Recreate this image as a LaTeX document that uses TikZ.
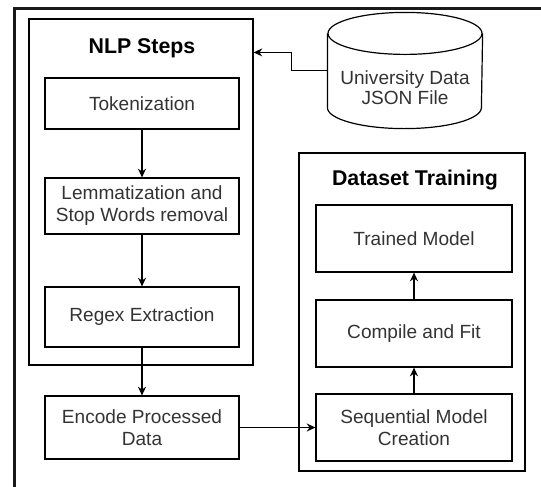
\documentclass[tikz,border=0pt]{standalone}
\usepackage{fontspec}
\setmainfont{Liberation Sans}
\usepackage{tikz}
\usetikzlibrary{positioning,arrows.meta}

\definecolor{txt}{HTML}{333333}

\begin{document}
\begin{tikzpicture}[%
       >={Stealth[length=6.5pt,width=6pt]},
       x=0.75pt, y=-0.75pt,
       line width=0.9pt,
       box/.style={draw, inner sep=0pt, minimum width=145.5pt, align=center, text=txt,
                   font=\fontsize{14.3}{16.5}\selectfont},
       group/.style={draw, inner sep=0pt},
       title/.style={font=\bfseries\fontsize{16}{18}\selectfont}
     ]
     \useasboundingbox (0,0) rectangle (541,486);
     \draw[line width=2.25pt, black!90] (14,490) |- (545,8.5);

     % NLP steps
     \node[group, minimum width=168pt, minimum height=259.5pt] (nlp) at (141,192) {};
     \node[title]                          (nlpt) at (142,48)    {NLP Steps};
     \node[box, minimum height=38.25pt]    (tok)  at (142,103.5) {Tokenization};
     \node[box, minimum height=42pt]       (lem)  at (142,206)   {Lemmatization and\\Stop Words removal};
     \node[box, minimum height=45pt]       (reg)  at (142,317)   {Regex Extraction};
     \node[box, minimum height=47.25pt]    (enc)  at (142,427.5) {Encode Processed\\Data};

     % dataset training
     \node[group, minimum width=169.5pt, minimum height=238.5pt] (dst) at (412,312) {};
     \node[title]                                  (dstt) at (415,180)   {Dataset Training};
     \node[box, minimum width=147pt, minimum height=50.25pt] (trn) at (414,238.5) {Trained Model};
     \node[box, minimum width=147pt, minimum height=50.25pt] (cmp) at (414,333.5) {Compile and Fit};
     \node[box, minimum width=147pt, minimum height=50.25pt] (seq) at (414,427.5) {Sequential Model\\Creation};

     % json file
     \node[minimum width=115.5pt, minimum height=86.25pt, inner sep=0pt] (db) at (405,70.5) {};
     \draw ([yshift=-15.75pt]db.north) ellipse [x radius=57.75pt, y radius=15.75pt];
     \draw ([yshift=-15.75pt]db.north west) -- ([yshift=15.75pt]db.south west)
           arc [start angle=180, end angle=360, x radius=57.75pt, y radius=15.75pt]
           -- ([yshift=-15.75pt]db.north east);
     \node[align=center, text=txt, font=\fontsize{14.3}{15}\selectfont] (dbl) at (405,88)
           {University Data\\JSON File};

     \path[->] (tok) edge (lem);
     \path[->] (lem) edge (reg);
     \path[->] (reg) edge (enc);
     \path[->] (enc) edge (seq);
     \path[->] (seq) edge (cmp);
     \path[->] (cmp) edge (trn);
     \draw[->] (db.west) -- ++(-36,0) |- ([yshift=-25.5pt]nlp.north east);
\end{tikzpicture}
\end{document}
